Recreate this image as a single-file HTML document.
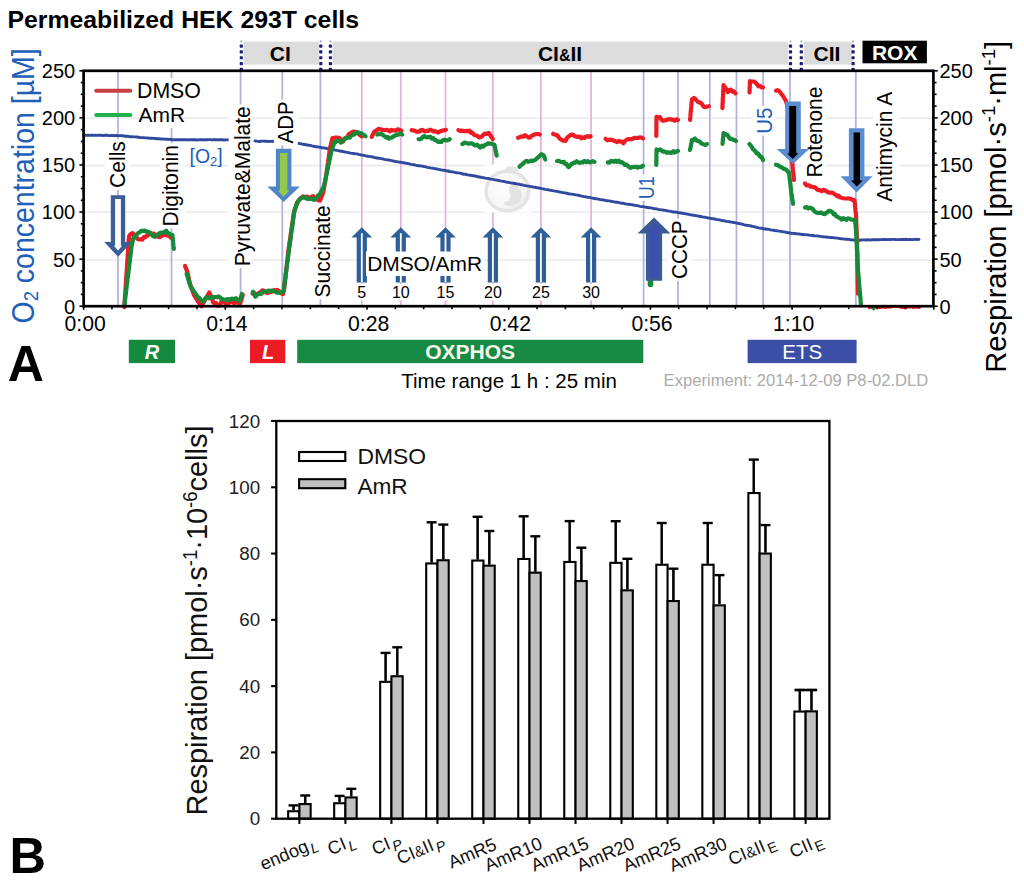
<!DOCTYPE html>
<html><head><meta charset="utf-8"><title>Permeabilized HEK 293T cells</title>
<style>html,body{margin:0;padding:0;background:#fff;} svg{display:block;} text{font-family:"Liberation Sans",sans-serif;}</style>
</head><body>
<svg width="1024" height="881" viewBox="0 0 1024 881">
<rect width="1024" height="881" fill="#fff"/>
<rect x="243.4" y="41.6" width="75.9" height="23.0" fill="#dcdcdc" />
<rect x="332.4" y="41.6" width="455.80000000000007" height="23.0" fill="#dcdcdc" />
<rect x="803.8" y="41.6" width="48.40000000000009" height="23.0" fill="#dcdcdc" />
<rect x="862.5" y="40.7" width="64.4" height="22.6" fill="#000" />
<line x1="84.6" y1="260.1" x2="932.4" y2="260.1" stroke="#ececec" stroke-width="1.8" />
<line x1="84.6" y1="212.1" x2="932.4" y2="212.1" stroke="#ececec" stroke-width="1.8" />
<line x1="84.6" y1="165.5" x2="932.4" y2="165.5" stroke="#ececec" stroke-width="1.8" />
<line x1="84.6" y1="118.2" x2="932.4" y2="118.2" stroke="#ececec" stroke-width="1.8" />
<line x1="118.0" y1="70.8" x2="118.0" y2="306" stroke="#b3b4de" stroke-width="1.8" />
<line x1="171.5" y1="70.8" x2="171.5" y2="78" stroke="#b3b4de" stroke-width="1.8" />
<line x1="171.5" y1="128" x2="171.5" y2="306" stroke="#b3b4de" stroke-width="1.8" />
<line x1="240.6" y1="70.8" x2="240.6" y2="306" stroke="#b3b4de" stroke-width="1.8" />
<line x1="282.3" y1="70.8" x2="282.3" y2="306" stroke="#b3b4de" stroke-width="1.8" />
<line x1="320.4" y1="70.8" x2="320.4" y2="306" stroke="#b3b4de" stroke-width="1.8" />
<line x1="643.6" y1="70.8" x2="643.6" y2="306" stroke="#b3b4de" stroke-width="1.8" />
<line x1="678.0" y1="70.8" x2="678.0" y2="306" stroke="#b3b4de" stroke-width="1.8" />
<line x1="709.8" y1="70.8" x2="709.8" y2="306" stroke="#b3b4de" stroke-width="1.8" />
<line x1="736.5" y1="70.8" x2="736.5" y2="306" stroke="#b3b4de" stroke-width="1.8" />
<line x1="763.1" y1="70.8" x2="763.1" y2="306" stroke="#b3b4de" stroke-width="1.8" />
<line x1="790.0" y1="70.8" x2="790.0" y2="306" stroke="#b3b4de" stroke-width="1.8" />
<line x1="855.8" y1="70.8" x2="855.8" y2="306" stroke="#b3b4de" stroke-width="1.8" />
<line x1="361.8" y1="70.8" x2="361.8" y2="306" stroke="#e4b0dc" stroke-width="1.7" />
<line x1="400.8" y1="70.8" x2="400.8" y2="306" stroke="#e4b0dc" stroke-width="1.7" />
<line x1="445.5" y1="70.8" x2="445.5" y2="306" stroke="#e4b0dc" stroke-width="1.7" />
<line x1="492.9" y1="70.8" x2="492.9" y2="306" stroke="#e4b0dc" stroke-width="1.7" />
<line x1="540.9" y1="70.8" x2="540.9" y2="306" stroke="#e4b0dc" stroke-width="1.7" />
<line x1="591.1" y1="70.8" x2="591.1" y2="306" stroke="#e4b0dc" stroke-width="1.7" />
<rect x="239.70000000000002" y="44.5" width="3.2" height="3.2" fill="#1c1c78" rx="0.8"/>
<rect x="239.70000000000002" y="50.33" width="3.2" height="3.2" fill="#1c1c78" rx="0.8"/>
<rect x="239.70000000000002" y="56.160000000000004" width="3.2" height="3.2" fill="#1c1c78" rx="0.8"/>
<rect x="239.70000000000002" y="61.99" width="3.2" height="3.2" fill="#1c1c78" rx="0.8"/>
<rect x="239.70000000000002" y="67.82000000000001" width="3.2" height="3.2" fill="#1c1c78" rx="0.8"/>
<rect x="240.5" y="40.6" width="1.6" height="1.6" fill="#8c8cc8" />
<rect x="319.2" y="44.5" width="3.2" height="3.2" fill="#1c1c78" rx="0.8"/>
<rect x="319.2" y="50.33" width="3.2" height="3.2" fill="#1c1c78" rx="0.8"/>
<rect x="319.2" y="56.160000000000004" width="3.2" height="3.2" fill="#1c1c78" rx="0.8"/>
<rect x="319.2" y="61.99" width="3.2" height="3.2" fill="#1c1c78" rx="0.8"/>
<rect x="319.2" y="67.82000000000001" width="3.2" height="3.2" fill="#1c1c78" rx="0.8"/>
<rect x="320.0" y="40.6" width="1.6" height="1.6" fill="#8c8cc8" />
<rect x="328.79999999999995" y="44.5" width="3.2" height="3.2" fill="#1c1c78" rx="0.8"/>
<rect x="328.79999999999995" y="50.33" width="3.2" height="3.2" fill="#1c1c78" rx="0.8"/>
<rect x="328.79999999999995" y="56.160000000000004" width="3.2" height="3.2" fill="#1c1c78" rx="0.8"/>
<rect x="328.79999999999995" y="61.99" width="3.2" height="3.2" fill="#1c1c78" rx="0.8"/>
<rect x="328.79999999999995" y="67.82000000000001" width="3.2" height="3.2" fill="#1c1c78" rx="0.8"/>
<rect x="329.59999999999997" y="40.6" width="1.6" height="1.6" fill="#8c8cc8" />
<rect x="788.9" y="44.5" width="3.2" height="3.2" fill="#1c1c78" rx="0.8"/>
<rect x="788.9" y="50.33" width="3.2" height="3.2" fill="#1c1c78" rx="0.8"/>
<rect x="788.9" y="56.160000000000004" width="3.2" height="3.2" fill="#1c1c78" rx="0.8"/>
<rect x="788.9" y="61.99" width="3.2" height="3.2" fill="#1c1c78" rx="0.8"/>
<rect x="788.9" y="67.82000000000001" width="3.2" height="3.2" fill="#1c1c78" rx="0.8"/>
<rect x="789.7" y="40.6" width="1.6" height="1.6" fill="#8c8cc8" />
<rect x="799.6999999999999" y="44.5" width="3.2" height="3.2" fill="#1c1c78" rx="0.8"/>
<rect x="799.6999999999999" y="50.33" width="3.2" height="3.2" fill="#1c1c78" rx="0.8"/>
<rect x="799.6999999999999" y="56.160000000000004" width="3.2" height="3.2" fill="#1c1c78" rx="0.8"/>
<rect x="799.6999999999999" y="61.99" width="3.2" height="3.2" fill="#1c1c78" rx="0.8"/>
<rect x="799.6999999999999" y="67.82000000000001" width="3.2" height="3.2" fill="#1c1c78" rx="0.8"/>
<rect x="800.5" y="40.6" width="1.6" height="1.6" fill="#8c8cc8" />
<rect x="851.5" y="44.5" width="3.2" height="3.2" fill="#1c1c78" rx="0.8"/>
<rect x="851.5" y="50.33" width="3.2" height="3.2" fill="#1c1c78" rx="0.8"/>
<rect x="851.5" y="56.160000000000004" width="3.2" height="3.2" fill="#1c1c78" rx="0.8"/>
<rect x="851.5" y="61.99" width="3.2" height="3.2" fill="#1c1c78" rx="0.8"/>
<rect x="851.5" y="67.82000000000001" width="3.2" height="3.2" fill="#1c1c78" rx="0.8"/>
<rect x="852.3000000000001" y="40.6" width="1.6" height="1.6" fill="#8c8cc8" />
<text x="280.3" y="61" font-size="21" text-anchor="middle" fill="#000" font-weight="bold"  >CI</text>
<text x="560" y="61" font-size="21" text-anchor="middle" font-weight="bold">CI<tspan font-size="16">&amp;</tspan>II</text>
<text x="827" y="60.5" font-size="21" text-anchor="middle" fill="#000" font-weight="bold"  >CII</text>
<text x="894.7" y="60.4" font-size="21" text-anchor="middle" fill="#fff" font-weight="bold"  >ROX</text>
<rect x="484" y="164.5" width="48" height="48" fill="#fff" />
<defs><radialGradient id="wg" cx="0.4" cy="0.4" r="0.7"><stop offset="0" stop-color="#fdfdfd"/><stop offset="0.7" stop-color="#f6f6f6"/><stop offset="1" stop-color="#e4e4e4"/></radialGradient></defs>
<g><path d="M503,172 q3,-6 8,-6 q6,0 8,5 z" fill="#e6e6e6"/><ellipse cx="507.5" cy="191" rx="21.5" ry="19.8" fill="url(#wg)" stroke="#e3e3e3" stroke-width="3.4"/><path d="M512,184 q5,-1 7,4 q5,5 2,12 q-4,7 -13,6 q-5,-1 -4,-4 q5,0 6,-4 q1,-4 -1,-6 q-1,-5 3,-8z" fill="#e3e3e3"/></g>
<polyline points="83.6,135.2 85.1,135.2 86.7,135.4 88.2,135.2 89.8,135.4 91.3,135.3 92.9,135.2 94.4,135.4 96.0,135.2 97.5,135.4 99.1,135.2 100.6,135.2 102.1,135.4 103.7,135.5 105.2,135.3 106.8,135.3 108.3,135.5 109.9,135.6 111.4,135.5 113.0,135.4 114.5,135.7 116.1,135.3 117.6,135.6 119.2,135.6 120.8,135.6 122.4,135.8 124.0,136.0 125.6,136.3 127.2,136.2 128.8,136.5 130.4,136.7 132.0,136.7 133.6,136.9 135.2,136.9 136.8,137.0 138.4,137.2 140.0,137.6 141.5,137.6 143.0,137.6 144.5,137.8 146.1,137.9 147.6,137.9 149.1,138.2 150.6,138.3 152.1,138.2 153.6,138.4 155.1,138.5 156.7,138.8 158.2,138.8 159.7,138.7 161.2,139.1 162.7,138.8 164.2,139.1 165.7,139.3 167.3,139.2 168.8,139.4 170.3,139.3 171.8,139.7 173.4,139.7 174.9,139.7 176.5,139.8 178.1,139.6 179.6,139.7 181.2,139.7 182.8,139.7 184.3,139.7 185.9,139.8 187.5,139.9 189.0,139.7 190.6,139.8 192.2,139.6 193.7,139.8 195.3,139.8 196.9,140.0 198.4,139.9 200.0,139.7 201.5,139.8 203.0,139.9 204.5,139.6 206.0,139.8 207.5,139.7 209.0,139.6 210.5,139.6 212.0,139.9 213.5,139.7 215.0,139.7 216.5,139.8 218.0,139.9 219.5,139.6 221.0,139.8 222.5,139.8 224.0,140.0 225.5,139.9 227.0,139.9 228.5,139.7 230.0,139.8" fill="none" stroke="#30499e" stroke-width="2.9" stroke-linejoin="round" stroke-linecap="round" />
<polyline points="255.0,141.0 256.6,141.1 258.2,141.4 259.8,141.5 261.3,141.1 262.9,141.1 264.5,141.2 266.1,141.2 267.7,141.4 269.2,141.5 270.8,141.4 272.4,141.3 274.0,141.6" fill="none" stroke="#30499e" stroke-width="2.9" stroke-linejoin="round" stroke-linecap="round" />
<polyline points="297.5,143.3 300.0,143.6 301.5,143.9 303.0,144.3 304.4,144.5 305.9,144.7 307.4,145.0 308.9,145.3 310.4,145.4 311.9,145.9 313.3,146.2 314.8,146.5 316.3,146.7 317.8,146.9 319.3,147.1 320.7,147.3 322.2,147.8 323.7,147.9 325.2,148.1 326.7,148.5 328.1,148.7 329.6,149.1 331.1,149.2 332.6,149.5 334.1,149.8 335.6,150.1 337.0,150.4 338.5,150.6 340.0,151.1 341.5,151.3 343.0,151.5 344.4,151.8 345.9,152.1 347.4,152.4 348.9,152.6 350.4,153.1 351.9,153.4 353.3,153.5 354.8,153.8 356.3,153.9 357.8,154.2 359.3,154.6 360.7,154.8 362.2,155.2 363.7,155.3 365.2,155.6 366.7,156.1 368.1,156.3 369.6,156.4 371.1,156.8 372.6,156.9 374.1,157.4 375.6,157.8 377.0,158.0 378.5,158.2 380.0,158.4 381.5,158.7 383.0,158.9 384.4,159.4 385.9,159.6 387.4,159.9 388.9,160.0 390.4,160.3 391.9,160.7 393.3,161.1 394.8,161.3 396.3,161.6 397.8,161.8 399.3,162.1 400.7,162.2 402.2,162.6 403.7,162.8 405.2,163.0 406.7,163.3 408.1,163.6 409.6,163.9 411.1,164.3 412.6,164.6 414.1,164.8 415.6,165.2 417.0,165.5 418.5,165.7 420.0,165.8 421.5,166.1 423.0,166.3 424.4,166.6 425.9,166.9 427.4,167.3 428.9,167.6 430.4,167.9 431.9,168.1 433.3,168.4 434.8,168.7 436.3,168.8 437.8,169.2 439.3,169.6 440.7,169.8 442.2,170.1 443.7,170.3 445.2,170.5 446.7,170.9 448.1,171.0 449.6,171.5 451.1,171.8 452.6,171.9 454.1,172.2 455.6,172.6 457.0,172.8 458.5,172.9 460.0,173.2 461.5,173.5 463.0,174.0 464.5,174.2 466.0,174.3 467.4,174.8 468.9,175.1 470.4,175.3 471.9,175.5 473.4,175.8 474.9,176.0 476.4,176.2 477.9,176.8 479.4,177.0 480.9,177.2 482.3,177.6 483.8,177.7 485.3,178.1 486.8,178.4 488.3,178.5 489.8,178.8 491.3,179.1 492.8,179.4 494.3,179.7 495.7,179.9 497.2,180.2 498.7,180.4 500.2,180.9 501.7,181.1 503.2,181.4 504.7,181.7 506.2,182.1 507.7,182.2 509.1,182.6 510.6,182.8 512.1,183.1 513.6,183.3 515.1,183.5 516.6,183.9 518.1,184.1 519.6,184.3 521.1,184.8 522.6,184.9 524.0,185.3 525.5,185.6 527.0,185.9 528.5,186.1 530.0,186.4 531.5,186.7 533.0,187.0 534.5,187.1 536.0,187.5 537.4,187.7 538.9,188.0 540.4,188.4 541.9,188.6 543.4,188.9 544.9,189.3 546.4,189.6 547.9,189.7 549.4,190.1 550.9,190.3 552.3,190.6 553.8,190.9 555.3,191.1 556.8,191.4 558.3,191.7 559.8,192.1 561.3,192.3 562.8,192.6 564.3,192.9 565.7,193.0 567.2,193.4 568.7,193.8 570.2,194.0 571.7,194.1 573.2,194.4 574.7,194.7 576.2,194.9 577.7,195.2 579.1,195.5 580.6,195.9 582.1,196.2 583.6,196.6 585.1,196.6 586.6,197.1 588.1,197.3 589.6,197.4 591.1,197.9 592.6,198.2 594.0,198.3 595.5,198.8 597.0,198.9 598.5,199.2 600.0,199.6 601.5,199.8 603.0,199.9 604.4,200.2 605.9,200.5 607.4,200.7 608.9,200.9 610.4,201.2 611.9,201.6 613.3,201.6 614.8,202.0 616.3,202.2 617.8,202.3 619.3,202.7 620.7,203.0 622.2,203.2 623.7,203.3 625.2,203.9 626.7,204.1 628.1,204.4 629.6,204.3 631.1,204.6 632.6,204.8 634.1,205.3 635.6,205.4 637.0,205.6 638.5,205.9 640.0,206.3 641.5,206.6 643.0,206.6 644.6,206.9 646.1,207.3 647.6,207.5 649.1,207.8 650.6,207.9 652.2,208.1 653.7,208.6 655.2,208.7 656.7,208.9 658.2,209.4 659.8,209.6 661.3,209.9 662.8,209.9 664.3,210.4 665.8,210.4 667.4,210.9 668.9,211.1 670.4,211.3 671.9,211.6 673.4,212.0 675.0,212.0 676.5,212.2 678.0,212.6 679.5,212.8 681.0,213.0 682.6,213.3 684.1,213.5 685.6,213.8 687.1,214.1 688.7,214.4 690.2,214.8 691.7,214.9 693.2,215.3 694.8,215.4 696.3,215.8 697.8,215.9 699.3,216.3 700.9,216.5 702.4,216.9 703.9,217.1 705.4,217.3 707.0,217.7 708.5,218.1 710.0,218.1 711.5,218.6 713.1,218.7 714.6,219.0 716.1,219.4 717.6,219.6 719.2,219.9 720.7,220.2 722.2,220.6 723.8,220.7 725.3,221.1 726.8,221.4 728.4,221.6 729.9,221.8 731.4,222.1 732.9,222.3 734.5,222.6 736.0,222.9 737.5,223.4 739.0,223.5 740.5,223.8 742.0,224.1 743.5,224.7 745.0,225.0 746.5,225.2 748.0,225.4 749.5,225.7 751.0,226.0 752.5,226.4 754.0,226.6 755.5,227.0 757.0,227.3 758.5,227.8 760.0,228.1 761.5,228.3 763.0,228.5 764.5,229.0 766.0,229.0 767.5,229.3 769.0,229.4 770.5,229.8 772.0,230.1 773.5,230.3 775.0,230.5 776.5,230.8 778.0,230.9 779.5,231.2 781.0,231.4 782.5,231.7 784.0,231.9 785.5,232.1 787.0,232.5 788.5,232.7 790.0,233.0 791.5,233.2 793.0,233.4 794.5,233.5 796.0,233.7 797.5,233.9 799.0,234.0 800.5,234.1 802.0,234.5 803.5,234.4 805.0,234.7 806.5,234.9 808.0,234.8 809.5,235.2 811.0,235.4 812.5,235.5 814.0,235.7 815.5,235.9 817.0,235.9 818.5,236.1 820.0,236.3 821.5,236.6 823.0,236.7 824.6,236.9 826.1,237.0 827.6,237.3 829.1,237.4 830.7,237.5 832.2,237.6 833.7,237.7 835.2,237.9 836.7,238.1 838.3,238.2 839.8,238.6 841.3,238.7 842.8,238.9 844.3,239.1 845.9,239.2 847.4,239.3 848.9,239.4 850.4,239.8 852.0,239.9 853.5,240.0 855.0,240.2 856.6,240.2 858.1,240.0 859.7,240.2 861.2,240.0 862.8,239.9 864.4,239.9 865.9,240.0 867.5,239.8 869.1,239.9 870.6,240.0 872.2,239.8 873.8,239.7 875.3,239.7 876.9,239.7 878.4,239.7 880.0,239.6 881.5,239.6 883.0,239.5 884.5,239.5 886.0,239.5 887.5,239.6 889.0,239.5 890.5,239.6 892.0,239.4 893.5,239.4 895.0,239.5 896.5,239.6 898.0,239.6 899.5,239.6 901.0,239.4 902.5,239.5 904.0,239.5 905.5,239.5 907.0,239.3 908.5,239.6 910.0,239.4 911.5,239.6 913.0,239.6 914.5,239.3 916.0,239.4 917.5,239.5 919.0,239.4" fill="none" stroke="#30499e" stroke-width="2.9" stroke-linejoin="round" stroke-linecap="round" />
<rect x="104.53904" y="139.3" width="25.599999999999994" height="50.39999999999998" fill="#fff" />
<g transform="translate(125.2,164.50) scale(1.06,1) rotate(-90)"><text x="0" y="0" font-size="20.6" text-anchor="middle" fill="#000" textLength="46.8" lengthAdjust="spacingAndGlyphs">Cells</text></g>
<rect x="159.82264" y="143.3" width="25.600000000000023" height="85.0" fill="#fff" />
<g transform="translate(178.3,185.80) scale(1.06,1) rotate(-90)"><text x="0" y="0" font-size="20.6" text-anchor="middle" fill="#000" textLength="81.4" lengthAdjust="spacingAndGlyphs">Digitonin</text></g>
<rect x="228.6" y="104.4" width="22.700000000000017" height="163.70000000000002" fill="#fff" />
<g transform="translate(250.1,186.25) scale(1.06,1) rotate(-90)"><text x="0" y="0" font-size="20.6" text-anchor="middle" fill="#000" textLength="160.1" lengthAdjust="spacingAndGlyphs">Pyruvate&amp;Malate</text></g>
<rect x="273.9" y="99.7" width="23.900000000000034" height="45.499999999999986" fill="#fff" />
<g transform="translate(293.0,122.45) scale(1.06,1) rotate(-90)"><text x="0" y="0" font-size="20.6" text-anchor="middle" fill="#000" textLength="41.9" lengthAdjust="spacingAndGlyphs">ADP</text></g>
<rect x="309.33904" y="203.5" width="25.600000000000023" height="95.69999999999999" fill="#fff" />
<g transform="translate(330.0,251.35) scale(1.06,1) rotate(-90)"><text x="0" y="0" font-size="20.6" text-anchor="middle" fill="#000" textLength="92.1" lengthAdjust="spacingAndGlyphs">Succinate</text></g>
<rect x="666.73904" y="218.5" width="25.59999999999991" height="62.39999999999998" fill="#fff" />
<g transform="translate(687.4,249.70) scale(1.06,1) rotate(-90)"><text x="0" y="0" font-size="20.6" text-anchor="middle" fill="#000" textLength="58.8" lengthAdjust="spacingAndGlyphs">CCCP</text></g>
<rect x="800.9390400000001" y="84.9" width="25.59999999999991" height="94.29999999999998" fill="#fff" />
<g transform="translate(821.6,132.05) scale(1.06,1) rotate(-90)"><text x="0" y="0" font-size="20.6" text-anchor="middle" fill="#000" textLength="90.7" lengthAdjust="spacingAndGlyphs">Rotenone</text></g>
<rect x="873.7226400000001" y="90.0" width="25.59999999999991" height="113.5" fill="#fff" />
<g transform="translate(892.2,146.75) scale(1.06,1) rotate(-90)"><text x="0" y="0" font-size="20.6" text-anchor="middle" fill="#000" textLength="109.9" lengthAdjust="spacingAndGlyphs">Antimycin A</text></g>
<rect x="633.6410000000001" y="174.6" width="25.59999999999991" height="26.200000000000017" fill="#fff" />
<g transform="translate(654.1,187.70) scale(1.15,1) rotate(-90)"><text x="0" y="0" font-size="18.5" text-anchor="middle" fill="#2160b8" textLength="22.5" lengthAdjust="spacingAndGlyphs">U1</text></g>
<rect x="751.0296" y="105.7" width="25.59999999999991" height="29.89999999999999" fill="#fff" />
<g transform="translate(771.8,120.65) scale(1.08,1) rotate(-90)"><text x="0" y="0" font-size="20.5" text-anchor="middle" fill="#2160b8" textLength="26.3" lengthAdjust="spacingAndGlyphs">U5</text></g>
<polyline points="124.3,307.2 124.4,305.7 124.5,304.2 124.6,302.7 124.7,301.2 124.8,299.7 124.9,298.2 125.0,296.7 125.1,295.2 125.2,293.7 125.3,292.2 125.4,290.7 125.5,289.1 125.6,287.6 125.7,286.1 125.8,284.6 125.9,283.1 126.0,281.6 126.1,280.1 126.2,278.6 126.3,277.1 126.4,275.6 126.5,274.1 126.6,272.6 126.7,271.1 126.8,269.6 126.9,268.1 127.0,266.6 127.1,265.1 127.2,263.6 127.3,262.1 127.4,260.6 127.5,259.1 127.6,257.6 127.7,256.1 127.8,254.5 127.9,253.0 128.0,251.5 128.1,250.0 128.2,248.5 128.3,247.0 128.4,245.5 128.5,244.0 128.6,242.5 128.7,241.0 128.8,239.5 128.9,238.0 129.2,236.2 129.6,235.3 131.1,233.9 132.5,233.1 133.8,234.4 135.0,237.1 136.3,237.0 137.5,238.9 138.8,239.4 140.7,239.4 142.5,239.6 143.8,237.2 145.0,237.5 146.2,236.0 147.5,235.7 148.8,234.5 150.0,232.8 151.3,233.2 152.5,233.5 153.8,233.7 155.0,234.7 156.7,236.2 158.3,236.8 160.0,237.1 161.7,235.8 163.3,235.2 165.0,234.1 166.9,235.6 168.8,234.7 170.6,237.5" fill="none" stroke="#ec1c24" stroke-width="4.2" stroke-linejoin="round" stroke-linecap="round" />
<polyline points="185.0,265.9 185.6,267.5 186.2,269.0 186.8,270.6 187.4,272.2 187.7,273.7 188.1,275.1 188.4,276.6 188.7,278.1 189.0,279.6 189.3,281.1 189.7,282.5 190.0,284.0 190.6,285.6 191.1,287.1 191.7,288.7 192.3,290.3 192.9,291.9 193.4,293.4 194.0,295.0 194.9,296.4 195.7,297.8 196.6,299.1 197.4,300.5 198.3,301.9 199.3,303.3 200.4,304.8 201.4,306.2 202.3,304.6 203.2,303.1 204.1,301.6 205.0,300.0 205.9,298.5 206.7,297.0 207.6,295.5 208.4,294.0 209.3,292.5 210.0,294.1 210.6,295.6 211.2,297.2 211.9,298.8 212.5,300.3 213.2,302.4 214.5,303.4 215.9,303.0 217.2,305.4 218.6,305.9 219.9,304.7 221.2,302.1 222.5,300.8 223.9,301.6 225.2,303.5 226.6,303.6 228.0,304.2 229.0,302.9 230.0,301.6 231.0,300.0 232.1,301.5 233.2,302.5 234.3,303.4 235.9,301.9 237.4,301.0 238.2,302.3 238.9,303.7 239.7,305.0 240.1,303.5 240.6,302.1 241.0,300.6 241.5,299.2 241.9,297.7 242.4,296.3 242.8,294.8" fill="none" stroke="#ec1c24" stroke-width="4.2" stroke-linejoin="round" stroke-linecap="round" />
<polyline points="252.5,293.6 254.3,292.9 256.2,294.5 258.0,293.5 259.2,292.7 260.5,292.3 261.8,290.8 263.0,290.3 264.7,292.0 266.3,292.5 268.0,293.1 269.5,292.1 271.0,292.0 272.5,291.4 274.0,290.1 275.7,290.7 277.3,289.9 279.0,291.4 280.3,291.9 281.7,293.5 283.0,294.0 283.5,292.0 284.0,290.0 284.2,288.5 284.3,286.9 284.5,285.4 284.7,283.8 284.9,282.3 285.0,280.8 285.2,279.2 285.4,277.7 285.6,276.2 285.7,274.6 285.9,273.1 286.1,271.5 286.2,270.0 286.4,268.5 286.6,266.9 286.8,265.4 286.9,263.8 287.1,262.3 287.3,260.8 287.5,259.2 287.6,257.7 287.8,256.2 288.0,254.6 288.2,253.1 288.3,251.5 288.5,250.0 288.7,248.5 288.9,247.0 289.2,245.4 289.4,243.9 289.6,242.4 289.8,240.9 290.0,239.4 290.3,237.8 290.5,236.3 290.7,234.8 290.9,233.3 291.1,231.8 291.4,230.2 291.6,228.7 291.8,227.2 292.0,225.7 292.2,224.2 292.5,222.6 292.7,221.1 292.9,219.6 293.1,218.1 293.3,216.6 293.6,215.0 293.8,213.5 294.0,212.0 294.5,210.5 295.0,209.0 295.5,207.5 296.0,206.0 296.5,204.5 297.0,203.0 298.0,201.5 299.0,200.0 300.0,198.8 301.7,197.4 303.3,196.4 305.0,197.3 307.0,196.6 309.0,197.9 311.0,197.0 313.0,196.1 314.3,197.9 315.7,199.4 317.0,199.1 318.5,200.3 320.0,200.5 320.6,199.0 321.2,197.5 321.8,196.0 322.4,194.5 323.0,193.0 323.3,191.5 323.6,190.0 323.9,188.5 324.2,187.0 324.4,185.4 324.7,183.9 325.0,182.4 325.3,180.9 325.6,179.4 325.8,177.9 326.0,176.4 326.2,174.9 326.5,173.4 326.7,171.9 326.9,170.3 327.1,168.8 327.3,167.3 327.5,165.8 327.7,164.3 328.0,162.8 328.2,161.3 328.4,159.8 328.6,158.3 328.8,156.8 329.0,155.2 329.2,153.7 329.5,152.2 329.7,150.7 329.9,149.2 330.1,147.7 330.5,146.2 330.9,144.7 331.2,143.1 331.6,141.6 332.0,140.1 332.4,138.2 334.0,138.3 335.6,137.5 337.4,137.6 339.2,138.0 341.0,139.2 342.9,141.6 344.0,139.7 345.1,138.0 346.1,138.1 347.2,137.1 348.3,134.9 349.6,133.6 351.0,132.8 352.4,131.9 353.7,131.5 355.2,131.8 356.8,132.9 358.3,133.7 360.1,135.3 361.9,136.3" fill="none" stroke="#ec1c24" stroke-width="4.2" stroke-linejoin="round" stroke-linecap="round" />
<polyline points="371.7,136.9 372.5,135.3 373.2,133.8 374.0,132.2 374.8,131.3 376.8,130.2 378.8,128.8 380.4,129.2 381.9,129.8 383.4,130.0 385.0,130.3 386.6,129.8 388.1,130.2 389.7,131.4 391.3,129.9 392.9,130.4 394.4,130.4 395.9,130.7 397.5,129.3 399.4,129.8 401.4,130.6" fill="none" stroke="#ec1c24" stroke-width="4.2" stroke-linejoin="round" stroke-linecap="round" />
<polyline points="411.6,130.1 413.2,130.5 414.8,130.7 416.4,131.7 418.0,131.6 419.5,131.6 421.0,130.0 422.6,129.9 424.1,131.1 425.6,131.3 427.2,130.6 428.7,130.8 430.3,129.7 431.9,130.4 433.4,131.4 435.0,131.2 436.6,131.8 438.1,132.5 439.7,131.7 441.2,130.9 442.8,130.4 444.3,130.4 445.9,129.8" fill="none" stroke="#ec1c24" stroke-width="4.2" stroke-linejoin="round" stroke-linecap="round" />
<polyline points="458.4,130.1 460.0,130.8 461.5,130.7 463.1,130.8 464.7,131.2 466.3,130.9 467.8,131.3 469.4,130.6 470.9,132.8 472.5,132.7 474.0,134.8 475.2,135.2 476.4,135.5 477.6,136.1 478.8,137.3 480.4,137.1 481.9,136.5 483.4,134.6 485.0,133.7 486.9,133.8 488.9,133.0 489.9,134.6 490.9,136.1 491.8,137.6 492.8,139.2" fill="none" stroke="#ec1c24" stroke-width="4.2" stroke-linejoin="round" stroke-linecap="round" />
<polyline points="518.0,137.8 519.8,137.1 521.5,136.4 523.2,136.7 525.0,135.2 527.0,136.5 528.9,137.6 530.2,137.5 531.5,135.8 532.8,135.2 534.5,134.5 536.3,134.0 538.0,134.0 539.8,134.5" fill="none" stroke="#ec1c24" stroke-width="4.2" stroke-linejoin="round" stroke-linecap="round" />
<polyline points="553.1,133.8 554.7,134.5 556.3,135.0 557.5,135.5 558.8,137.5 560.0,138.9 561.3,139.6 562.5,140.4 564.0,140.7 565.6,140.8 566.7,138.4 567.8,137.0 568.9,136.4 570.0,135.5 571.1,134.8 572.9,134.6 574.6,136.2 576.4,136.7 578.1,136.9 579.7,136.6 581.2,138.3 582.8,137.4 584.4,138.0 585.9,136.6 587.5,136.2 589.0,136.9 590.6,136.1" fill="none" stroke="#ec1c24" stroke-width="4.2" stroke-linejoin="round" stroke-linecap="round" />
<polyline points="605.5,138.8 607.2,140.3 608.9,139.8 610.6,139.6 612.3,140.0 614.0,140.7 615.6,141.3 617.1,142.1 618.7,140.9 620.3,141.6 621.8,141.5 623.4,143.2 625.0,140.9 626.5,139.9 628.1,139.2 629.7,139.0 631.2,139.3 632.8,138.7 634.4,137.9 635.9,137.8 637.7,138.1 639.5,137.3 641.2,137.5 643.0,138.4" fill="none" stroke="#ec1c24" stroke-width="4.2" stroke-linejoin="round" stroke-linecap="round" />
<polyline points="656.3,136.0 656.3,134.5 656.3,132.9 656.3,131.4 656.4,129.8 656.4,128.3 656.4,126.8 656.4,125.2 656.4,123.7 656.4,122.2 656.5,120.6 656.5,119.1 656.5,117.5 656.5,116.8 658.2,117.4 660.0,117.2 661.5,119.8 663.0,120.8 664.7,120.4 666.3,120.0 668.0,119.4 669.7,119.1 671.3,119.6 673.0,119.7 674.7,120.8 676.3,119.3 678.0,120.0" fill="none" stroke="#ec1c24" stroke-width="4.2" stroke-linejoin="round" stroke-linecap="round" />
<polyline points="690.0,120.0 690.1,118.5 690.3,116.9 690.4,115.4 690.6,113.9 690.7,112.3 690.9,110.8 691.0,109.2 691.1,107.7 691.3,106.2 691.4,104.6 691.6,103.1 691.7,101.6 691.9,100.0 692.0,99.3 694.0,98.0 695.9,99.5 697.7,101.6 699.0,102.4 700.4,102.6 701.7,103.6 702.6,105.0 703.4,106.3 704.3,106.9 705.8,107.2 707.4,106.5 708.9,106.2" fill="none" stroke="#ec1c24" stroke-width="4.2" stroke-linejoin="round" stroke-linecap="round" />
<polyline points="722.4,108.2 722.5,106.7 722.5,105.1 722.6,103.6 722.7,102.1 722.8,100.5 722.8,99.0 722.9,97.5 723.0,95.9 723.1,94.4 723.1,92.9 723.2,91.3 723.3,89.8 723.4,88.3 723.4,86.7 723.5,85.2 724.6,86.7 725.6,88.2 726.7,89.8 727.8,92.1 729.3,90.0 730.9,89.6 732.4,91.7 734.0,91.4 735.5,93.4" fill="none" stroke="#ec1c24" stroke-width="4.2" stroke-linejoin="round" stroke-linecap="round" />
<polyline points="749.5,92.5 749.6,90.9 749.6,89.3 749.7,87.7 749.8,86.1 749.9,84.5 749.9,82.9 750.0,81.1 751.5,81.7 753.0,81.5 754.3,81.5 755.7,82.8 757.0,84.2 758.5,86.4 760.0,85.8 761.5,87.3 763.0,87.5" fill="none" stroke="#ec1c24" stroke-width="4.2" stroke-linejoin="round" stroke-linecap="round" />
<polyline points="776.0,90.7 777.5,90.2 779.0,91.0 780.0,92.2 781.0,93.5 782.0,94.8 783.0,96.0 784.0,97.7 785.0,99.3 786.0,101.0 786.4,102.6 786.9,104.1 787.3,105.7 787.8,107.2 788.2,108.8 788.7,110.3 789.1,111.9 789.6,113.4 790.0,115.0 790.1,116.5 790.1,118.0 790.2,119.5 790.3,121.0 790.3,122.5 790.4,124.0 790.5,125.5 790.5,127.0 790.6,128.5 790.7,130.0 790.7,131.5 790.8,133.0 790.9,134.5 790.9,136.0 791.0,137.5 791.1,139.0 791.1,140.5 791.2,142.0 791.3,143.5 791.3,145.0 791.4,146.5 791.5,148.0 791.5,149.5 791.6,151.0 791.7,152.5 791.7,154.0 791.8,155.5 791.9,157.0 791.9,158.5 792.0,160.0 792.2,161.5 792.3,163.1 792.5,164.6 792.6,166.2 792.8,167.7 792.9,169.2 793.1,170.8 793.2,172.3 793.4,173.8 793.5,175.4 793.7,176.9 793.8,178.5 794.0,180.0" fill="none" stroke="#ec1c24" stroke-width="4.2" stroke-linejoin="round" stroke-linecap="round" />
<polyline points="805.0,183.4 806.4,185.3 807.8,185.3 809.2,185.3 810.6,186.7 812.0,186.7 813.6,187.2 815.2,187.3 816.8,189.3 818.4,190.1 820.0,190.2 821.7,191.1 823.3,189.8 825.0,190.5 826.7,191.3 828.3,192.5 830.0,192.8 831.4,192.5 832.9,193.0 834.3,194.0 835.7,194.8 837.1,196.3 838.6,195.7 840.0,197.5 841.7,197.8 843.3,198.2 845.0,198.5 846.7,198.5 848.3,198.4 850.0,198.7 851.5,199.1 853.0,200.2 854.5,200.0 854.6,201.5 854.8,203.0 855.0,204.5 855.1,206.0 855.2,207.5 855.4,209.0 855.5,210.5 855.7,212.0 855.9,213.5 856.0,215.0 856.1,216.6 856.1,218.1 856.2,219.7 856.2,221.2 856.3,222.8 856.4,224.4 856.4,225.9 856.5,227.5 856.6,229.1 856.6,230.6 856.7,232.2 856.8,233.8 856.8,235.3 856.9,236.9 856.9,238.4 857.0,240.0 857.0,241.5 857.1,243.1 857.1,244.6 857.1,246.1 857.1,247.7 857.2,249.2 857.2,250.7 857.2,252.3 857.3,253.8 857.3,255.3 857.3,256.9 857.3,258.4 857.4,259.9 857.4,261.5 857.4,263.0 857.5,264.5 857.5,266.1 857.5,267.6 857.5,269.2 857.6,270.7 857.6,272.2 857.6,273.8 857.7,275.3 857.7,276.8 857.7,278.4 857.7,279.9 857.8,281.4 857.8,283.0 857.8,284.5 857.9,286.0 857.9,287.6 857.9,289.1 857.9,290.6 858.0,292.2 858.0,293.7" fill="none" stroke="#ec1c24" stroke-width="4.2" stroke-linejoin="round" stroke-linecap="round" />
<polygon points="110.8,195.2 125.2,195.2 125.2,242.1 131.7,242.1 118.0,256.8 104.3,242.1 110.8,242.1" fill="#3b5e96" />
<polygon points="115.1,199.1 120.9,199.1 120.9,245.7 122.1,245.7 118.0,250.4 113.9,245.7 115.1,245.7" fill="#fff" />
<polyline points="124.4,305.5 124.6,304.0 124.8,302.4 125.0,300.9 125.1,299.4 125.3,297.9 125.5,296.3 125.7,294.8 125.9,293.3 126.1,291.8 126.2,290.2 126.4,288.7 126.6,287.2 126.8,285.7 127.0,284.1 127.2,282.6 127.4,281.1 127.5,279.6 127.7,278.0 127.9,276.5 128.1,275.0 128.3,273.5 128.5,271.9 128.6,270.4 128.8,268.9 129.0,267.4 129.2,265.8 129.4,264.3 129.6,262.8 129.8,261.3 129.9,259.7 130.1,258.2 130.3,256.7 130.5,255.2 130.7,253.6 130.9,252.1 131.0,250.6 131.2,249.1 131.4,247.5 131.6,246.0 132.0,244.3 132.4,242.6 132.8,240.9 133.2,238.4 134.3,237.5 135.3,237.3 136.4,235.1 137.5,233.6 138.8,232.5 140.0,232.3 141.2,230.8 142.5,230.9 145.0,230.7 146.2,231.8 147.5,231.5 148.8,232.1 150.0,233.1 151.7,234.8 153.3,236.2 155.0,236.8 156.2,235.3 157.5,234.6 158.8,233.8 160.0,232.8 161.6,232.6 163.2,232.5 164.7,231.9 166.3,230.6 167.6,233.2 168.8,233.4 170.7,234.5 172.5,235.0 172.6,236.5 172.8,238.1 172.9,239.6 173.1,241.1 173.2,242.7 173.4,244.2 173.5,245.7 173.7,247.3 173.8,248.8" fill="none" stroke="#178a3a" stroke-width="4.2" stroke-linejoin="round" stroke-linecap="round" />
<polyline points="186.6,273.8 187.1,275.4 187.6,276.9 188.1,278.5 188.6,280.1 189.0,281.6 189.5,283.2 190.0,284.7 190.5,286.3 191.4,287.6 192.3,289.0 193.2,290.3 194.1,291.6 195.0,292.9 195.9,294.3 196.8,295.4 197.9,297.3 199.0,297.6 200.0,298.9 201.1,300.2 202.2,301.3 203.4,301.4 204.6,299.7 205.7,298.1 206.9,297.0 208.9,298.3 210.8,297.6 212.4,296.8 213.9,297.6 215.4,297.0 217.0,297.3 218.6,296.4 220.2,297.7 221.8,299.0 223.6,299.5 225.3,300.1 227.1,299.0 228.8,299.9 230.6,299.0 232.3,298.6 234.1,299.4 235.8,298.1 237.1,299.8 238.4,299.8 239.7,301.0 240.3,299.2 240.8,297.5 241.4,295.8 242.0,294.0" fill="none" stroke="#178a3a" stroke-width="4.2" stroke-linejoin="round" stroke-linecap="round" />
<polyline points="253.0,291.7 253.8,293.1 254.5,294.6 255.3,296.7 256.9,295.1 258.4,293.9 260.0,294.0 261.7,293.6 263.3,291.5 265.0,291.7 266.7,291.5 268.3,290.7 270.0,290.8 271.5,290.6 273.0,291.0 274.5,291.3 276.0,292.2 277.7,292.8 279.3,292.5 281.0,292.6 282.3,291.9 283.6,291.0 283.8,289.5 284.0,288.0 284.2,286.4 284.4,284.9 284.6,283.4 284.8,281.9 285.0,280.4 285.2,278.9 285.4,277.3 285.6,275.8 285.8,274.3 286.0,272.8 286.2,271.3 286.4,269.7 286.6,268.2 286.8,266.7 287.0,265.2 287.2,263.7 287.4,262.1 287.6,260.6 287.8,259.1 288.0,257.6 288.2,256.1 288.4,254.6 288.6,253.0 288.8,251.5 289.0,250.0 289.2,248.5 289.4,247.0 289.6,245.5 289.8,244.0 290.0,242.6 290.2,241.1 290.4,239.6 290.6,238.1 290.8,236.6 291.0,235.1 291.2,233.6 291.4,232.1 291.6,230.7 291.9,229.2 292.1,227.7 292.3,226.2 292.5,224.7 292.7,223.2 292.9,221.7 293.1,220.2 293.3,218.7 293.5,217.3 293.7,215.8 293.9,214.3 294.1,212.8 294.3,211.3 294.8,209.6 295.4,208.0 295.9,206.3 296.5,204.7 297.0,203.0 297.9,201.7 298.8,200.3 299.7,199.3 301.5,197.9 303.2,197.7 305.0,197.0 306.7,198.7 308.3,198.9 310.0,198.7 312.0,199.0 314.0,199.8 315.3,198.8 316.6,197.7 318.0,195.4 319.3,194.9 320.1,193.5 320.8,192.2 321.6,190.8 322.3,189.4 323.1,188.1 323.8,186.7 324.1,185.2 324.5,183.7 324.8,182.3 325.1,180.8 325.4,179.3 325.8,177.8 326.1,176.3 326.4,174.8 326.7,173.4 327.1,171.9 327.4,170.4 327.7,168.9 328.0,167.3 328.3,165.8 328.7,164.2 329.0,162.7 329.3,161.2 329.6,159.6 329.9,158.1 330.2,156.6 330.6,155.0 330.9,153.5 331.2,151.9 331.5,150.4 332.0,148.9 332.6,147.5 333.1,146.0 333.7,144.6 334.2,142.5 335.4,142.4 336.5,140.7 338.0,140.8 339.5,141.2 341.0,142.6 342.5,140.4 344.1,139.8 345.6,138.3 347.1,137.7 348.6,137.7 350.1,137.2 351.5,135.4 352.9,134.4 354.2,134.7 355.6,133.1 357.6,132.1 359.6,133.0 361.2,133.1 362.8,134.7 364.1,135.0 365.5,136.3" fill="none" stroke="#178a3a" stroke-width="4.2" stroke-linejoin="round" stroke-linecap="round" />
<polyline points="377.2,134.5 378.8,134.1 380.3,133.9 381.8,134.1 383.4,135.4 384.8,136.3 386.1,137.6 387.5,136.9 388.9,138.6 390.5,137.7 392.0,137.4 393.6,136.3 395.2,135.5 396.7,134.9 398.3,134.6 400.2,133.4 402.2,134.5" fill="none" stroke="#178a3a" stroke-width="4.2" stroke-linejoin="round" stroke-linecap="round" />
<polyline points="418.6,139.2 420.0,139.1 421.4,138.8 422.8,136.8 424.2,136.0 425.6,136.9 427.2,137.4 428.7,137.0 430.3,136.7 431.8,138.7 433.4,138.2 435.0,140.1 436.5,140.6 438.1,141.9 439.7,141.7 441.3,142.0 442.8,140.3 444.4,139.8 446.2,140.4 448.0,140.1 449.8,139.2" fill="none" stroke="#178a3a" stroke-width="4.2" stroke-linejoin="round" stroke-linecap="round" />
<polyline points="462.3,144.1 464.7,142.6 466.3,143.1 467.8,143.6 469.4,143.6 470.9,143.3 472.5,143.8 474.0,144.9 475.6,145.4 477.2,144.6 478.7,146.3 480.3,147.5 481.9,145.7 483.4,146.6 485.0,144.8 486.6,144.5 488.1,143.2 489.7,143.7 491.2,143.6 492.8,144.2 494.4,144.7 494.7,146.3 495.1,147.8 495.4,149.4 495.7,150.9 496.0,152.5 496.4,154.0 496.7,155.6" fill="none" stroke="#178a3a" stroke-width="4.2" stroke-linejoin="round" stroke-linecap="round" />
<polyline points="519.5,166.7 520.9,165.3 522.2,164.5 523.6,163.0 525.0,161.8 526.6,160.8 528.1,161.7 529.7,161.3 531.3,160.6 533.1,160.8 534.9,160.1 536.7,158.7 537.9,157.2 539.0,156.8 540.2,155.1 541.4,154.1 543.8,155.6 544.5,157.6 545.3,159.5" fill="none" stroke="#178a3a" stroke-width="4.2" stroke-linejoin="round" stroke-linecap="round" />
<polyline points="557.0,161.0 558.8,160.8 560.5,161.8 562.2,162.3 564.0,161.9 565.2,163.9 566.4,163.9 567.6,166.0 568.8,167.1 570.0,165.7 571.3,163.9 572.5,163.8 573.8,162.6 575.0,162.7 576.6,161.2 578.1,162.5 579.7,162.8 581.3,162.3 582.8,162.3 584.4,160.9 586.0,162.2 587.5,161.1 589.2,162.1 591.0,162.2 592.8,161.1 594.5,161.9" fill="none" stroke="#178a3a" stroke-width="4.2" stroke-linejoin="round" stroke-linecap="round" />
<polyline points="607.8,162.4 609.4,162.6 610.9,160.9 612.5,161.3 614.1,161.9 615.7,160.7 617.2,161.9 618.8,160.7 620.3,162.4 621.9,162.0 623.5,163.4 625.0,165.0 626.4,164.6 627.8,165.7 629.1,167.1 630.5,167.8 632.3,167.0 634.1,167.0 635.9,166.7 637.7,167.7 639.5,166.9 641.2,166.9 643.0,165.8" fill="none" stroke="#178a3a" stroke-width="4.2" stroke-linejoin="round" stroke-linecap="round" />
<polyline points="656.3,165.0 656.3,163.5 656.3,162.0 656.4,160.5 656.4,159.0 656.4,157.5 656.4,156.0 656.4,154.5 656.5,153.0 656.5,151.5 656.5,149.4 658.2,150.5 660.0,149.3 661.7,150.7 663.3,151.6 665.0,151.7 666.7,152.8 668.3,152.4 670.0,152.6 671.6,152.9 673.2,151.2 674.8,152.5 676.4,151.5 678.0,151.0" fill="none" stroke="#178a3a" stroke-width="4.2" stroke-linejoin="round" stroke-linecap="round" />
<polyline points="690.0,150.0 690.3,148.3 690.7,146.7 691.0,145.0 691.3,143.3 691.7,141.7 692.0,139.8 693.5,139.9 695.0,138.4 696.7,140.7 698.3,141.1 700.0,141.7 701.3,143.5 702.7,143.9 704.0,144.4 705.5,144.9 707.0,144.0" fill="none" stroke="#178a3a" stroke-width="4.2" stroke-linejoin="round" stroke-linecap="round" />
<polyline points="722.5,143.8 722.7,142.1 722.8,140.5 723.0,138.8 723.2,137.1 723.3,135.5 723.5,133.0 726.0,134.6 727.3,134.9 728.7,136.9 730.0,138.9 731.5,138.9 733.0,139.8 734.5,139.9 736.0,141.0" fill="none" stroke="#178a3a" stroke-width="4.2" stroke-linejoin="round" stroke-linecap="round" />
<polyline points="749.5,144.1 750.7,145.5 751.8,147.0 753.0,149.2 754.2,150.1 755.5,151.5 756.8,153.5 758.0,153.3 759.0,154.7 760.0,156.7 761.0,156.7 762.0,157.9 763.0,160.0" fill="none" stroke="#178a3a" stroke-width="4.2" stroke-linejoin="round" stroke-linecap="round" />
<polyline points="776.0,164.7 778.0,165.3 780.0,166.7 781.7,167.2 783.3,168.5 785.0,169.2 786.3,169.6 787.7,171.6 789.0,172.5 789.2,174.1 789.4,175.7 789.5,177.3 789.7,178.9 789.9,180.5 790.1,182.0 790.3,183.6 790.5,185.2 790.6,186.8 790.8,188.4 791.0,190.0 791.2,191.5 791.4,193.1 791.7,194.6 791.9,196.1 792.1,197.7 792.3,199.2 792.6,200.7 792.8,202.3 793.0,203.8" fill="none" stroke="#178a3a" stroke-width="4.2" stroke-linejoin="round" stroke-linecap="round" />
<polyline points="805.0,207.5 806.7,207.0 808.3,208.6 810.0,207.5 811.3,208.2 812.7,208.9 814.0,210.7 815.3,212.0 816.7,212.7 818.0,212.8 819.8,212.8 821.5,212.6 823.2,214.0 825.0,214.1 826.2,212.7 827.5,212.3 828.8,210.9 830.0,210.8 831.2,211.7 832.5,212.0 833.8,214.5 835.0,214.2 836.2,216.1 837.5,216.8 838.8,217.5 840.0,218.2 841.6,219.5 843.2,218.1 844.8,219.1 846.4,219.8 848.0,218.4 849.8,218.7 851.5,219.7 853.2,219.8 855.0,220.0 855.2,221.7 855.3,223.3 855.5,225.0 855.7,226.7 855.8,228.3 856.0,230.0 856.1,231.5 856.2,233.1 856.2,234.6 856.3,236.2 856.4,237.7 856.5,239.2 856.5,240.8 856.6,242.3 856.7,243.8 856.8,245.4 856.8,246.9 856.9,248.5 857.0,250.0 857.1,251.5 857.2,253.1 857.2,254.6 857.3,256.2 857.4,257.7 857.5,259.2 857.5,260.8 857.6,262.3 857.7,263.8 857.8,265.4 857.8,266.9 857.9,268.5 858.0,270.0 858.1,271.5 858.3,273.0 858.4,274.6 858.5,276.1 858.7,277.6 858.8,279.1 858.9,280.7 859.0,282.2 859.2,283.7 859.3,285.2 859.4,286.7 859.6,288.3 859.7,289.8 859.8,291.3 860.0,292.8 860.1,294.3 860.2,295.9 860.3,297.4 860.5,298.9 860.6,300.4 860.7,302.0 860.9,303.5 861.0,305.0" fill="none" stroke="#178a3a" stroke-width="4.2" stroke-linejoin="round" stroke-linecap="round" />
<polyline points="869.3,307.6 870.8,307.8 872.4,306.8 873.9,306.9 875.4,306.9 876.9,306.4 878.5,307.7 880.0,307.5 881.7,307.3 883.3,306.1 885.0,307.5 886.7,307.3 888.3,306.8 890.0,307.2 891.7,306.8 893.3,306.5 895.0,306.4 896.7,306.6 898.3,306.4 900.0,306.9 901.7,307.6 903.3,307.4 905.0,307.7 906.7,307.4 908.3,306.7 910.0,307.1 911.6,306.9 913.2,307.6 914.8,307.2 916.4,306.8 918.0,307.5 919.6,307.3" fill="none" stroke="#ec1c24" stroke-width="3.0" stroke-linejoin="round" stroke-linecap="round" />
<circle cx="873.7" cy="308.6" r="1.8" fill="#178a3a"/>
<polygon points="275.9,148.7 291.4,148.7 291.4,186.5 299.9,186.5 283.6,202.0 267.4,186.5 275.9,186.5" fill="#4f86c6" />
<polygon points="279.9,153.1 287.4,153.1 287.4,190.5 289.5,190.5 283.6,196.8 277.8,190.5 279.9,190.5" fill="#92c94e" />
<polygon points="785.2,101.4 800.8,101.4 800.8,149.1 809.2,149.1 793.0,164.0 776.8,149.1 785.2,149.1" fill="#5b8ccf" />
<polygon points="789.2,105.9 796.2,105.9 796.2,153.3 798.5,153.3 792.7,158.9 787.0,153.3 789.2,153.3" fill="#000" />
<polygon points="848.9,128.2 864.4,128.2 864.4,176.3 872.7,176.3 856.6,192.6 840.5,176.3 848.9,176.3" fill="#5b8ccf" />
<polygon points="853.6,132.4 860.0,132.4 860.0,180.4 862.8,180.4 856.8,186.6 850.8,180.4 853.6,180.4" fill="#000" />
<line x1="650.5" y1="272" x2="650.5" y2="284.5" stroke="#178a3a" stroke-width="5.6" stroke-linecap="round"/>
<polygon points="645.9,280.7 662.1,280.7 662.1,233.5 670.5,233.5 654.0,217.5 637.5,233.5 645.9,233.5" fill="#3a5c92" />
<polygon points="649.6,277.6 658.8,277.6 658.8,230.8 660.9,230.8 654.2,222.3 647.5,230.8 649.6,230.8" fill="#3e4fb2" />
<polygon points="356.7,282.4 366.9,282.4 366.9,237.6 372.2,237.6 361.8,227.2 351.4,237.6 356.7,237.6" fill="#2f5f98" />
<line x1="361.8" y1="233.2" x2="361.8" y2="282.4" stroke="#fff" stroke-width="1.8" />
<polygon points="395.7,282.4 405.9,282.4 405.9,237.6 411.2,237.6 400.8,227.2 390.4,237.6 395.7,237.6" fill="#2f5f98" />
<line x1="400.8" y1="233.2" x2="400.8" y2="282.4" stroke="#fff" stroke-width="1.8" />
<polygon points="440.4,282.4 450.6,282.4 450.6,237.6 455.9,237.6 445.5,227.2 435.1,237.6 440.4,237.6" fill="#2f5f98" />
<line x1="445.5" y1="233.2" x2="445.5" y2="282.4" stroke="#fff" stroke-width="1.8" />
<polygon points="487.8,282.4 498.0,282.4 498.0,237.6 503.3,237.6 492.9,227.2 482.5,237.6 487.8,237.6" fill="#2f5f98" />
<line x1="492.9" y1="233.2" x2="492.9" y2="282.4" stroke="#fff" stroke-width="1.8" />
<polygon points="535.8,282.4 546.0,282.4 546.0,237.6 551.3,237.6 540.9,227.2 530.5,237.6 535.8,237.6" fill="#2f5f98" />
<line x1="540.9" y1="233.2" x2="540.9" y2="282.4" stroke="#fff" stroke-width="1.8" />
<polygon points="586.0,282.4 596.2,282.4 596.2,237.6 601.5,237.6 591.1,227.2 580.7,237.6 586.0,237.6" fill="#2f5f98" />
<line x1="591.1" y1="233.2" x2="591.1" y2="282.4" stroke="#fff" stroke-width="1.8" />
<rect x="366" y="251.5" width="118" height="24.5" fill="#fff" />
<text x="424.6" y="270.9" font-size="20.9" text-anchor="middle" fill="#000" font-weight="normal"  >DMSO/AmR</text>
<rect x="352.8" y="284" width="18" height="16.5" fill="#fff" />
<text x="361.8" y="298.4" font-size="16" text-anchor="middle" fill="#000" font-weight="normal"  >5</text>
<rect x="391.8" y="284" width="18" height="16.5" fill="#fff" />
<text x="400.8" y="298.4" font-size="16" text-anchor="middle" fill="#000" font-weight="normal"  >10</text>
<rect x="436.5" y="284" width="18" height="16.5" fill="#fff" />
<text x="445.5" y="298.4" font-size="16" text-anchor="middle" fill="#000" font-weight="normal"  >15</text>
<rect x="483.9" y="284" width="18" height="16.5" fill="#fff" />
<text x="492.9" y="298.4" font-size="16" text-anchor="middle" fill="#000" font-weight="normal"  >20</text>
<rect x="531.9" y="284" width="18" height="16.5" fill="#fff" />
<text x="540.9" y="298.4" font-size="16" text-anchor="middle" fill="#000" font-weight="normal"  >25</text>
<rect x="582.1" y="284" width="18" height="16.5" fill="#fff" />
<text x="591.1" y="298.4" font-size="16" text-anchor="middle" fill="#000" font-weight="normal"  >30</text>
<text x="189.5" y="163.4" font-size="19.5" fill="#2160b8">[O<tspan font-size="13" dy="3">2</tspan><tspan dy="-3">]</tspan></text>
<line x1="96.2" y1="90.8" x2="130.3" y2="90.8" stroke="#c8403f" stroke-width="4.0" stroke-linecap="round"/>
<line x1="96.2" y1="114.9" x2="130.3" y2="114.9" stroke="#20b04c" stroke-width="4.0" stroke-linecap="round"/>
<text x="137" y="98" font-size="21.3" text-anchor="start" fill="#000" font-weight="normal"  >DMSO</text>
<text x="138.5" y="121.8" font-size="21.0" text-anchor="start" fill="#000" font-weight="normal"  >AmR</text>
<rect x="83.6" y="70.8" width="849.8" height="235.39999999999998" fill="none" stroke="#000" stroke-width="2.7"/>
<line x1="79.39999999999999" y1="306.2" x2="83.6" y2="306.2" stroke="#000" stroke-width="1.6" />
<line x1="933.4" y1="306.2" x2="937.6999999999999" y2="306.2" stroke="#000" stroke-width="1.6" />
<line x1="80.8" y1="294.43" x2="83.6" y2="294.43" stroke="#000" stroke-width="1.6" />
<line x1="933.4" y1="294.43" x2="936.6" y2="294.43" stroke="#000" stroke-width="1.6" />
<line x1="80.8" y1="282.65999999999997" x2="83.6" y2="282.65999999999997" stroke="#000" stroke-width="1.6" />
<line x1="933.4" y1="282.65999999999997" x2="936.6" y2="282.65999999999997" stroke="#000" stroke-width="1.6" />
<line x1="80.8" y1="270.89" x2="83.6" y2="270.89" stroke="#000" stroke-width="1.6" />
<line x1="933.4" y1="270.89" x2="936.6" y2="270.89" stroke="#000" stroke-width="1.6" />
<line x1="79.39999999999999" y1="259.12" x2="83.6" y2="259.12" stroke="#000" stroke-width="1.6" />
<line x1="933.4" y1="259.12" x2="937.6999999999999" y2="259.12" stroke="#000" stroke-width="1.6" />
<line x1="80.8" y1="247.35" x2="83.6" y2="247.35" stroke="#000" stroke-width="1.6" />
<line x1="933.4" y1="247.35" x2="936.6" y2="247.35" stroke="#000" stroke-width="1.6" />
<line x1="80.8" y1="235.57999999999998" x2="83.6" y2="235.57999999999998" stroke="#000" stroke-width="1.6" />
<line x1="933.4" y1="235.57999999999998" x2="936.6" y2="235.57999999999998" stroke="#000" stroke-width="1.6" />
<line x1="80.8" y1="223.81" x2="83.6" y2="223.81" stroke="#000" stroke-width="1.6" />
<line x1="933.4" y1="223.81" x2="936.6" y2="223.81" stroke="#000" stroke-width="1.6" />
<line x1="79.39999999999999" y1="212.04000000000002" x2="83.6" y2="212.04000000000002" stroke="#000" stroke-width="1.6" />
<line x1="933.4" y1="212.04000000000002" x2="937.6999999999999" y2="212.04000000000002" stroke="#000" stroke-width="1.6" />
<line x1="80.8" y1="200.27" x2="83.6" y2="200.27" stroke="#000" stroke-width="1.6" />
<line x1="933.4" y1="200.27" x2="936.6" y2="200.27" stroke="#000" stroke-width="1.6" />
<line x1="80.8" y1="188.5" x2="83.6" y2="188.5" stroke="#000" stroke-width="1.6" />
<line x1="933.4" y1="188.5" x2="936.6" y2="188.5" stroke="#000" stroke-width="1.6" />
<line x1="80.8" y1="176.73" x2="83.6" y2="176.73" stroke="#000" stroke-width="1.6" />
<line x1="933.4" y1="176.73" x2="936.6" y2="176.73" stroke="#000" stroke-width="1.6" />
<line x1="79.39999999999999" y1="164.95999999999998" x2="83.6" y2="164.95999999999998" stroke="#000" stroke-width="1.6" />
<line x1="933.4" y1="164.95999999999998" x2="937.6999999999999" y2="164.95999999999998" stroke="#000" stroke-width="1.6" />
<line x1="80.8" y1="153.19000000000003" x2="83.6" y2="153.19000000000003" stroke="#000" stroke-width="1.6" />
<line x1="933.4" y1="153.19000000000003" x2="936.6" y2="153.19000000000003" stroke="#000" stroke-width="1.6" />
<line x1="80.8" y1="141.42000000000002" x2="83.6" y2="141.42000000000002" stroke="#000" stroke-width="1.6" />
<line x1="933.4" y1="141.42000000000002" x2="936.6" y2="141.42000000000002" stroke="#000" stroke-width="1.6" />
<line x1="80.8" y1="129.65" x2="83.6" y2="129.65" stroke="#000" stroke-width="1.6" />
<line x1="933.4" y1="129.65" x2="936.6" y2="129.65" stroke="#000" stroke-width="1.6" />
<line x1="79.39999999999999" y1="117.88000000000002" x2="83.6" y2="117.88000000000002" stroke="#000" stroke-width="1.6" />
<line x1="933.4" y1="117.88000000000002" x2="937.6999999999999" y2="117.88000000000002" stroke="#000" stroke-width="1.6" />
<line x1="80.8" y1="106.11000000000001" x2="83.6" y2="106.11000000000001" stroke="#000" stroke-width="1.6" />
<line x1="933.4" y1="106.11000000000001" x2="936.6" y2="106.11000000000001" stroke="#000" stroke-width="1.6" />
<line x1="80.8" y1="94.34000000000003" x2="83.6" y2="94.34000000000003" stroke="#000" stroke-width="1.6" />
<line x1="933.4" y1="94.34000000000003" x2="936.6" y2="94.34000000000003" stroke="#000" stroke-width="1.6" />
<line x1="80.8" y1="82.57000000000002" x2="83.6" y2="82.57000000000002" stroke="#000" stroke-width="1.6" />
<line x1="933.4" y1="82.57000000000002" x2="936.6" y2="82.57000000000002" stroke="#000" stroke-width="1.6" />
<line x1="79.39999999999999" y1="70.80000000000001" x2="83.6" y2="70.80000000000001" stroke="#000" stroke-width="1.6" />
<line x1="933.4" y1="70.80000000000001" x2="937.6999999999999" y2="70.80000000000001" stroke="#000" stroke-width="1.6" />
<line x1="83.6" y1="306.2" x2="83.6" y2="309.8" stroke="#000" stroke-width="1.6" />
<line x1="111.94" y1="306.2" x2="111.94" y2="309.2" stroke="#000" stroke-width="1.6" />
<line x1="140.27999999999997" y1="306.2" x2="140.27999999999997" y2="309.2" stroke="#000" stroke-width="1.6" />
<line x1="168.61999999999998" y1="306.2" x2="168.61999999999998" y2="309.2" stroke="#000" stroke-width="1.6" />
<line x1="196.95999999999998" y1="306.2" x2="196.95999999999998" y2="309.2" stroke="#000" stroke-width="1.6" />
<line x1="225.29999999999998" y1="306.2" x2="225.29999999999998" y2="309.8" stroke="#000" stroke-width="1.6" />
<line x1="253.63999999999996" y1="306.2" x2="253.63999999999996" y2="309.2" stroke="#000" stroke-width="1.6" />
<line x1="281.97999999999996" y1="306.2" x2="281.97999999999996" y2="309.2" stroke="#000" stroke-width="1.6" />
<line x1="310.31999999999994" y1="306.2" x2="310.31999999999994" y2="309.2" stroke="#000" stroke-width="1.6" />
<line x1="338.65999999999997" y1="306.2" x2="338.65999999999997" y2="309.2" stroke="#000" stroke-width="1.6" />
<line x1="367.0" y1="306.2" x2="367.0" y2="309.8" stroke="#000" stroke-width="1.6" />
<line x1="395.3399999999999" y1="306.2" x2="395.3399999999999" y2="309.2" stroke="#000" stroke-width="1.6" />
<line x1="423.67999999999995" y1="306.2" x2="423.67999999999995" y2="309.2" stroke="#000" stroke-width="1.6" />
<line x1="452.02" y1="306.2" x2="452.02" y2="309.2" stroke="#000" stroke-width="1.6" />
<line x1="480.3599999999999" y1="306.2" x2="480.3599999999999" y2="309.2" stroke="#000" stroke-width="1.6" />
<line x1="508.69999999999993" y1="306.2" x2="508.69999999999993" y2="309.8" stroke="#000" stroke-width="1.6" />
<line x1="537.04" y1="306.2" x2="537.04" y2="309.2" stroke="#000" stroke-width="1.6" />
<line x1="565.3799999999999" y1="306.2" x2="565.3799999999999" y2="309.2" stroke="#000" stroke-width="1.6" />
<line x1="593.7199999999999" y1="306.2" x2="593.7199999999999" y2="309.2" stroke="#000" stroke-width="1.6" />
<line x1="622.06" y1="306.2" x2="622.06" y2="309.2" stroke="#000" stroke-width="1.6" />
<line x1="650.4" y1="306.2" x2="650.4" y2="309.8" stroke="#000" stroke-width="1.6" />
<line x1="678.7399999999999" y1="306.2" x2="678.7399999999999" y2="309.2" stroke="#000" stroke-width="1.6" />
<line x1="707.0799999999999" y1="306.2" x2="707.0799999999999" y2="309.2" stroke="#000" stroke-width="1.6" />
<line x1="735.42" y1="306.2" x2="735.42" y2="309.2" stroke="#000" stroke-width="1.6" />
<line x1="763.7599999999999" y1="306.2" x2="763.7599999999999" y2="309.2" stroke="#000" stroke-width="1.6" />
<line x1="792.0999999999999" y1="306.2" x2="792.0999999999999" y2="309.8" stroke="#000" stroke-width="1.6" />
<line x1="820.4399999999999" y1="306.2" x2="820.4399999999999" y2="309.2" stroke="#000" stroke-width="1.6" />
<line x1="848.78" y1="306.2" x2="848.78" y2="309.2" stroke="#000" stroke-width="1.6" />
<line x1="877.1199999999999" y1="306.2" x2="877.1199999999999" y2="309.2" stroke="#000" stroke-width="1.6" />
<line x1="905.4599999999999" y1="306.2" x2="905.4599999999999" y2="309.2" stroke="#000" stroke-width="1.6" />
<line x1="933.8" y1="306.2" x2="933.8" y2="309.8" stroke="#000" stroke-width="1.6" />
<text x="75.2" y="313.59999999999997" font-size="20" text-anchor="end" fill="#000" font-weight="normal"  >0</text>
<text x="939.5" y="313.59999999999997" font-size="20" text-anchor="start" fill="#000" font-weight="normal"  >0</text>
<text x="75.2" y="266.52" font-size="20" text-anchor="end" fill="#000" font-weight="normal"  >50</text>
<text x="939.5" y="266.52" font-size="20" text-anchor="start" fill="#000" font-weight="normal"  >50</text>
<text x="75.2" y="219.44000000000003" font-size="20" text-anchor="end" fill="#000" font-weight="normal"  >100</text>
<text x="939.5" y="219.44000000000003" font-size="20" text-anchor="start" fill="#000" font-weight="normal"  >100</text>
<text x="75.2" y="172.35999999999999" font-size="20" text-anchor="end" fill="#000" font-weight="normal"  >150</text>
<text x="939.5" y="172.35999999999999" font-size="20" text-anchor="start" fill="#000" font-weight="normal"  >150</text>
<text x="75.2" y="125.28000000000003" font-size="20" text-anchor="end" fill="#000" font-weight="normal"  >200</text>
<text x="939.5" y="125.28000000000003" font-size="20" text-anchor="start" fill="#000" font-weight="normal"  >200</text>
<text x="75.2" y="78.20000000000002" font-size="20" text-anchor="end" fill="#000" font-weight="normal"  >250</text>
<text x="939.5" y="78.20000000000002" font-size="20" text-anchor="start" fill="#000" font-weight="normal"  >250</text>
<text x="85.19999999999999" y="330.6" font-size="21.2" text-anchor="middle" fill="#000" font-weight="normal"  >0:00</text>
<text x="226.89999999999998" y="330.6" font-size="21.2" text-anchor="middle" fill="#000" font-weight="normal"  >0:14</text>
<text x="368.6" y="330.6" font-size="21.2" text-anchor="middle" fill="#000" font-weight="normal"  >0:28</text>
<text x="510.29999999999995" y="330.6" font-size="21.2" text-anchor="middle" fill="#000" font-weight="normal"  >0:42</text>
<text x="652.0" y="330.6" font-size="21.2" text-anchor="middle" fill="#000" font-weight="normal"  >0:56</text>
<text x="793.7" y="330.6" font-size="21.2" text-anchor="middle" fill="#000" font-weight="normal"  >1:10</text>
<g transform="translate(33.6,185.9) scale(1.1,1) rotate(-90)"><text x="0" y="0" font-size="28.5" text-anchor="middle" fill="#2160b8">O<tspan font-size="18.5" dy="4">2</tspan><tspan dy="-4"> concentration [µM]</tspan></text></g>
<g transform="translate(1005.6,206.8) scale(1.03,1) rotate(-90)"><text x="0" y="0" font-size="29.1" text-anchor="middle" fill="#000">Respiration [pmol·s<tspan font-size="18.5" dy="-10">-1</tspan><tspan dy="10">·ml</tspan><tspan font-size="18.5" dy="-10">-1</tspan><tspan dy="10">]</tspan></text></g>
<text x="7.5" y="27.5" font-size="24.8" text-anchor="start" fill="#000" font-weight="bold"  >Permeabilized HEK 293T cells</text>
<rect x="128.8" y="339.8" width="46.2" height="23.3" fill="#138a3e" />
<text x="152" y="358.6" font-size="20" text-anchor="middle" fill="#fff" font-weight="bold" font-style="italic">R</text>
<rect x="250" y="339.8" width="35.3" height="23.3" fill="#ec1c24" />
<text x="268" y="358.6" font-size="20" text-anchor="middle" fill="#fff" font-weight="bold" font-style="italic">L</text>
<rect x="297.2" y="339.8" width="346.1" height="23.3" fill="#178a43" />
<text x="470.2" y="359.2" font-size="21" text-anchor="middle" fill="#f4f6e8" font-weight="bold"  >OXPHOS</text>
<rect x="747.6" y="339.8" width="109" height="23.3" fill="#3c4fa6" />
<text x="802.3" y="359.4" font-size="20.5" text-anchor="middle" fill="#fff" font-weight="normal"  >ETS</text>
<text x="509" y="387.6" font-size="20.5" text-anchor="middle" fill="#000" font-weight="normal"  >Time range 1 h : 25 min</text>
<text x="663.6" y="385.6" font-size="16.6" text-anchor="start" fill="#ababab" font-weight="normal"  >Experiment: 2014-12-09 P8-02.DLD</text>
<text x="7.8" y="381.4" font-size="50" text-anchor="start" fill="#000" font-weight="bold"  >A</text>
<line x1="293.55" y1="810.2" x2="293.55" y2="805.4" stroke="#000" stroke-width="2.1" />
<line x1="288.55" y1="805.4" x2="298.55" y2="805.4" stroke="#000" stroke-width="2.4" />
<line x1="305.24999999999994" y1="803.0" x2="305.24999999999994" y2="795.5" stroke="#000" stroke-width="2.1" />
<line x1="300.24999999999994" y1="795.5" x2="310.24999999999994" y2="795.5" stroke="#000" stroke-width="2.4" />
<rect x="288.15" y="811.25" width="11.25" height="7.45" fill="#fff" stroke="#000" stroke-width="2.1"/>
<rect x="299.40" y="804.05" width="11.25" height="14.65" fill="#c0c0c0" stroke="#000" stroke-width="2.1"/>
<line x1="293.55" y1="810.2" x2="293.55" y2="805.4" stroke="#000" stroke-width="2.1" />
<line x1="305.24999999999994" y1="803.0" x2="305.24999999999994" y2="795.5" stroke="#000" stroke-width="2.1" />
<line x1="339.57" y1="802.2" x2="339.57" y2="795.9" stroke="#000" stroke-width="2.1" />
<line x1="334.57" y1="795.9" x2="344.57" y2="795.9" stroke="#000" stroke-width="2.4" />
<line x1="351.2699999999999" y1="796.4" x2="351.2699999999999" y2="788.8" stroke="#000" stroke-width="2.1" />
<line x1="346.2699999999999" y1="788.8" x2="356.2699999999999" y2="788.8" stroke="#000" stroke-width="2.4" />
<rect x="334.17" y="803.25" width="11.25" height="15.45" fill="#fff" stroke="#000" stroke-width="2.1"/>
<rect x="345.42" y="797.45" width="11.25" height="21.25" fill="#c0c0c0" stroke="#000" stroke-width="2.1"/>
<line x1="339.57" y1="802.2" x2="339.57" y2="795.9" stroke="#000" stroke-width="2.1" />
<line x1="351.2699999999999" y1="796.4" x2="351.2699999999999" y2="788.8" stroke="#000" stroke-width="2.1" />
<line x1="385.59000000000003" y1="680.8" x2="385.59000000000003" y2="652.9" stroke="#000" stroke-width="2.1" />
<line x1="380.59000000000003" y1="652.9" x2="390.59000000000003" y2="652.9" stroke="#000" stroke-width="2.4" />
<line x1="397.28999999999996" y1="675.2" x2="397.28999999999996" y2="647.3" stroke="#000" stroke-width="2.1" />
<line x1="392.28999999999996" y1="647.3" x2="402.28999999999996" y2="647.3" stroke="#000" stroke-width="2.4" />
<rect x="380.19" y="681.85" width="11.25" height="136.85" fill="#fff" stroke="#000" stroke-width="2.1"/>
<rect x="391.44" y="676.25" width="11.25" height="142.45" fill="#c0c0c0" stroke="#000" stroke-width="2.1"/>
<line x1="385.59000000000003" y1="680.8" x2="385.59000000000003" y2="652.9" stroke="#000" stroke-width="2.1" />
<line x1="397.28999999999996" y1="675.2" x2="397.28999999999996" y2="647.3" stroke="#000" stroke-width="2.1" />
<line x1="431.61" y1="562.4" x2="431.61" y2="522.3" stroke="#000" stroke-width="2.1" />
<line x1="426.61" y1="522.3" x2="436.61" y2="522.3" stroke="#000" stroke-width="2.4" />
<line x1="443.30999999999995" y1="559.2" x2="443.30999999999995" y2="524.6" stroke="#000" stroke-width="2.1" />
<line x1="438.30999999999995" y1="524.6" x2="448.30999999999995" y2="524.6" stroke="#000" stroke-width="2.4" />
<rect x="426.21" y="563.45" width="11.25" height="255.25" fill="#fff" stroke="#000" stroke-width="2.1"/>
<rect x="437.46" y="560.25" width="11.25" height="258.45" fill="#c0c0c0" stroke="#000" stroke-width="2.1"/>
<line x1="431.61" y1="562.4" x2="431.61" y2="522.3" stroke="#000" stroke-width="2.1" />
<line x1="443.30999999999995" y1="559.2" x2="443.30999999999995" y2="524.6" stroke="#000" stroke-width="2.1" />
<line x1="477.63000000000005" y1="559.5" x2="477.63000000000005" y2="516.8" stroke="#000" stroke-width="2.1" />
<line x1="472.63000000000005" y1="516.8" x2="482.63000000000005" y2="516.8" stroke="#000" stroke-width="2.4" />
<line x1="489.33" y1="564.6" x2="489.33" y2="531.0" stroke="#000" stroke-width="2.1" />
<line x1="484.33" y1="531.0" x2="494.33" y2="531.0" stroke="#000" stroke-width="2.4" />
<rect x="472.23" y="560.55" width="11.25" height="258.15" fill="#fff" stroke="#000" stroke-width="2.1"/>
<rect x="483.48" y="565.65" width="11.25" height="253.05" fill="#c0c0c0" stroke="#000" stroke-width="2.1"/>
<line x1="477.63000000000005" y1="559.5" x2="477.63000000000005" y2="516.8" stroke="#000" stroke-width="2.1" />
<line x1="489.33" y1="564.6" x2="489.33" y2="531.0" stroke="#000" stroke-width="2.1" />
<line x1="523.65" y1="557.9" x2="523.65" y2="516.3" stroke="#000" stroke-width="2.1" />
<line x1="518.65" y1="516.3" x2="528.65" y2="516.3" stroke="#000" stroke-width="2.4" />
<line x1="535.35" y1="571.6" x2="535.35" y2="536.3" stroke="#000" stroke-width="2.1" />
<line x1="530.35" y1="536.3" x2="540.35" y2="536.3" stroke="#000" stroke-width="2.4" />
<rect x="518.25" y="558.95" width="11.25" height="259.75" fill="#fff" stroke="#000" stroke-width="2.1"/>
<rect x="529.50" y="572.65" width="11.25" height="246.05" fill="#c0c0c0" stroke="#000" stroke-width="2.1"/>
<line x1="523.65" y1="557.9" x2="523.65" y2="516.3" stroke="#000" stroke-width="2.1" />
<line x1="535.35" y1="571.6" x2="535.35" y2="536.3" stroke="#000" stroke-width="2.1" />
<line x1="569.67" y1="560.9" x2="569.67" y2="521.1" stroke="#000" stroke-width="2.1" />
<line x1="564.67" y1="521.1" x2="574.67" y2="521.1" stroke="#000" stroke-width="2.4" />
<line x1="581.37" y1="580.0" x2="581.37" y2="547.7" stroke="#000" stroke-width="2.1" />
<line x1="576.37" y1="547.7" x2="586.37" y2="547.7" stroke="#000" stroke-width="2.4" />
<rect x="564.27" y="561.95" width="11.25" height="256.75" fill="#fff" stroke="#000" stroke-width="2.1"/>
<rect x="575.52" y="581.05" width="11.25" height="237.65" fill="#c0c0c0" stroke="#000" stroke-width="2.1"/>
<line x1="569.67" y1="560.9" x2="569.67" y2="521.1" stroke="#000" stroke-width="2.1" />
<line x1="581.37" y1="580.0" x2="581.37" y2="547.7" stroke="#000" stroke-width="2.1" />
<line x1="615.6899999999999" y1="561.8" x2="615.6899999999999" y2="521.2" stroke="#000" stroke-width="2.1" />
<line x1="610.6899999999999" y1="521.2" x2="620.6899999999999" y2="521.2" stroke="#000" stroke-width="2.4" />
<line x1="627.39" y1="589.3" x2="627.39" y2="558.8" stroke="#000" stroke-width="2.1" />
<line x1="622.39" y1="558.8" x2="632.39" y2="558.8" stroke="#000" stroke-width="2.4" />
<rect x="610.29" y="562.85" width="11.25" height="255.85" fill="#fff" stroke="#000" stroke-width="2.1"/>
<rect x="621.54" y="590.35" width="11.25" height="228.35" fill="#c0c0c0" stroke="#000" stroke-width="2.1"/>
<line x1="615.6899999999999" y1="561.8" x2="615.6899999999999" y2="521.2" stroke="#000" stroke-width="2.1" />
<line x1="627.39" y1="589.3" x2="627.39" y2="558.8" stroke="#000" stroke-width="2.1" />
<line x1="661.7099999999999" y1="563.7" x2="661.7099999999999" y2="523.0" stroke="#000" stroke-width="2.1" />
<line x1="656.7099999999999" y1="523.0" x2="666.7099999999999" y2="523.0" stroke="#000" stroke-width="2.4" />
<line x1="673.41" y1="600.0" x2="673.41" y2="568.7" stroke="#000" stroke-width="2.1" />
<line x1="668.41" y1="568.7" x2="678.41" y2="568.7" stroke="#000" stroke-width="2.4" />
<rect x="656.31" y="564.75" width="11.25" height="253.95" fill="#fff" stroke="#000" stroke-width="2.1"/>
<rect x="667.56" y="601.05" width="11.25" height="217.65" fill="#c0c0c0" stroke="#000" stroke-width="2.1"/>
<line x1="661.7099999999999" y1="563.7" x2="661.7099999999999" y2="523.0" stroke="#000" stroke-width="2.1" />
<line x1="673.41" y1="600.0" x2="673.41" y2="568.7" stroke="#000" stroke-width="2.1" />
<line x1="707.7299999999999" y1="563.7" x2="707.7299999999999" y2="523.0" stroke="#000" stroke-width="2.1" />
<line x1="702.7299999999999" y1="523.0" x2="712.7299999999999" y2="523.0" stroke="#000" stroke-width="2.4" />
<line x1="719.43" y1="604.3" x2="719.43" y2="575.1" stroke="#000" stroke-width="2.1" />
<line x1="714.43" y1="575.1" x2="724.43" y2="575.1" stroke="#000" stroke-width="2.4" />
<rect x="702.33" y="564.75" width="11.25" height="253.95" fill="#fff" stroke="#000" stroke-width="2.1"/>
<rect x="713.58" y="605.35" width="11.25" height="213.35" fill="#c0c0c0" stroke="#000" stroke-width="2.1"/>
<line x1="707.7299999999999" y1="563.7" x2="707.7299999999999" y2="523.0" stroke="#000" stroke-width="2.1" />
<line x1="719.43" y1="604.3" x2="719.43" y2="575.1" stroke="#000" stroke-width="2.1" />
<line x1="753.75" y1="492.0" x2="753.75" y2="459.6" stroke="#000" stroke-width="2.1" />
<line x1="748.75" y1="459.6" x2="758.75" y2="459.6" stroke="#000" stroke-width="2.4" />
<line x1="765.45" y1="552.5" x2="765.45" y2="525.1" stroke="#000" stroke-width="2.1" />
<line x1="760.45" y1="525.1" x2="770.45" y2="525.1" stroke="#000" stroke-width="2.4" />
<rect x="748.35" y="493.05" width="11.25" height="325.65" fill="#fff" stroke="#000" stroke-width="2.1"/>
<rect x="759.60" y="553.55" width="11.25" height="265.15" fill="#c0c0c0" stroke="#000" stroke-width="2.1"/>
<line x1="753.75" y1="492.0" x2="753.75" y2="459.6" stroke="#000" stroke-width="2.1" />
<line x1="765.45" y1="552.5" x2="765.45" y2="525.1" stroke="#000" stroke-width="2.1" />
<line x1="799.77" y1="710.5" x2="799.77" y2="690.0" stroke="#000" stroke-width="2.1" />
<line x1="794.77" y1="690.0" x2="804.77" y2="690.0" stroke="#000" stroke-width="2.4" />
<line x1="811.47" y1="710.3" x2="811.47" y2="690.0" stroke="#000" stroke-width="2.1" />
<line x1="806.47" y1="690.0" x2="816.47" y2="690.0" stroke="#000" stroke-width="2.4" />
<rect x="794.37" y="711.55" width="11.25" height="107.15" fill="#fff" stroke="#000" stroke-width="2.1"/>
<rect x="805.62" y="711.35" width="11.25" height="107.35" fill="#c0c0c0" stroke="#000" stroke-width="2.1"/>
<line x1="799.77" y1="710.5" x2="799.77" y2="690.0" stroke="#000" stroke-width="2.1" />
<line x1="811.47" y1="710.3" x2="811.47" y2="690.0" stroke="#000" stroke-width="2.1" />
<line x1="794.6" y1="690.0" x2="817.2" y2="690.0" stroke="#000" stroke-width="2.4" />
<rect x="276.3" y="421.0" width="553.0999999999999" height="397.70000000000005" fill="none" stroke="#000" stroke-width="2.3"/>
<line x1="271.1" y1="818.7" x2="276.3" y2="818.7" stroke="#000" stroke-width="2.1" />
<text x="260.2" y="825.3000000000001" font-size="18.8" text-anchor="end" fill="#222" font-weight="normal"  >0</text>
<line x1="271.1" y1="752.4166666666667" x2="276.3" y2="752.4166666666667" stroke="#000" stroke-width="2.1" />
<text x="260.2" y="759.0166666666668" font-size="18.8" text-anchor="end" fill="#222" font-weight="normal"  >20</text>
<line x1="271.1" y1="686.1333333333333" x2="276.3" y2="686.1333333333333" stroke="#000" stroke-width="2.1" />
<text x="260.2" y="692.7333333333333" font-size="18.8" text-anchor="end" fill="#222" font-weight="normal"  >40</text>
<line x1="271.1" y1="619.85" x2="276.3" y2="619.85" stroke="#000" stroke-width="2.1" />
<text x="260.2" y="626.45" font-size="18.8" text-anchor="end" fill="#222" font-weight="normal"  >60</text>
<line x1="271.1" y1="553.5666666666666" x2="276.3" y2="553.5666666666666" stroke="#000" stroke-width="2.1" />
<text x="260.2" y="560.1666666666666" font-size="18.8" text-anchor="end" fill="#222" font-weight="normal"  >80</text>
<line x1="271.1" y1="487.2833333333333" x2="276.3" y2="487.2833333333333" stroke="#000" stroke-width="2.1" />
<text x="260.2" y="493.8833333333333" font-size="18.8" text-anchor="end" fill="#222" font-weight="normal"  >100</text>
<line x1="271.1" y1="421.0" x2="276.3" y2="421.0" stroke="#000" stroke-width="2.1" />
<text x="260.2" y="427.6" font-size="18.8" text-anchor="end" fill="#222" font-weight="normal"  >120</text>
<line x1="299.4" y1="818.7" x2="299.4" y2="823.9000000000001" stroke="#000" stroke-width="2.1" />
<line x1="345.41999999999996" y1="818.7" x2="345.41999999999996" y2="823.9000000000001" stroke="#000" stroke-width="2.1" />
<line x1="391.44" y1="818.7" x2="391.44" y2="823.9000000000001" stroke="#000" stroke-width="2.1" />
<line x1="437.46" y1="818.7" x2="437.46" y2="823.9000000000001" stroke="#000" stroke-width="2.1" />
<line x1="483.48" y1="818.7" x2="483.48" y2="823.9000000000001" stroke="#000" stroke-width="2.1" />
<line x1="529.5" y1="818.7" x2="529.5" y2="823.9000000000001" stroke="#000" stroke-width="2.1" />
<line x1="575.52" y1="818.7" x2="575.52" y2="823.9000000000001" stroke="#000" stroke-width="2.1" />
<line x1="621.54" y1="818.7" x2="621.54" y2="823.9000000000001" stroke="#000" stroke-width="2.1" />
<line x1="667.56" y1="818.7" x2="667.56" y2="823.9000000000001" stroke="#000" stroke-width="2.1" />
<line x1="713.5799999999999" y1="818.7" x2="713.5799999999999" y2="823.9000000000001" stroke="#000" stroke-width="2.1" />
<line x1="759.6" y1="818.7" x2="759.6" y2="823.9000000000001" stroke="#000" stroke-width="2.1" />
<line x1="805.62" y1="818.7" x2="805.62" y2="823.9000000000001" stroke="#000" stroke-width="2.1" />
<rect x="299.1" y="452" width="46.2" height="9" fill="#fff" stroke="#000" stroke-width="2.1"/>
<rect x="299.1" y="479.2" width="46.2" height="9" fill="#c0c0c0" stroke="#000" stroke-width="2.1"/>
<text x="357.4" y="464.1" font-size="22.9" text-anchor="start" fill="#111" font-weight="normal"  >DMSO</text>
<text x="357.4" y="493.8" font-size="22.6" text-anchor="start" fill="#111" font-weight="normal"  >AmR</text>
<g transform="translate(263.2,870.6) rotate(-23)"><text x="0" y="0" font-size="18.2" fill="#111">endog<tspan font-size="14.5" dx="1.6" dy="4.2" font-style="italic">L</tspan></text></g>
<g transform="translate(330.8,855.5) rotate(-23)"><text x="0" y="0" font-size="18.2" fill="#111">CI<tspan font-size="14.5" dx="1.6" dy="4.2" font-style="italic">L</tspan></text></g>
<g transform="translate(375.0,855.5) rotate(-23)"><text x="0" y="0" font-size="18.2" fill="#111">CI<tspan font-size="14.5" dx="1.6" dy="4.2" font-style="italic">P</tspan></text></g>
<g transform="translate(399.9,864.8) rotate(-23)"><text x="0" y="0" font-size="18.2" fill="#111">CI<tspan font-size="15">&amp;</tspan>II<tspan font-size="14.5" dx="1.6" dy="4.2" font-style="italic">P</tspan></text></g>
<g transform="translate(451.4,868.8) rotate(-23)"><text x="0" y="0" font-size="18.2" fill="#111">AmR5</text></g>
<g transform="translate(487.8,871.7) rotate(-23)"><text x="0" y="0" font-size="18.2" fill="#111">AmR10</text></g>
<g transform="translate(534.3,871.7) rotate(-23)"><text x="0" y="0" font-size="18.2" fill="#111">AmR15</text></g>
<g transform="translate(580.1,871.7) rotate(-23)"><text x="0" y="0" font-size="18.2" fill="#111">AmR20</text></g>
<g transform="translate(626.3,871.9) rotate(-23)"><text x="0" y="0" font-size="18.2" fill="#111">AmR25</text></g>
<g transform="translate(672.5,871.9) rotate(-23)"><text x="0" y="0" font-size="18.2" fill="#111">AmR30</text></g>
<g transform="translate(731.5,865.7) rotate(-23)"><text x="0" y="0" font-size="18.2" fill="#111">CI<tspan font-size="15">&amp;</tspan>II<tspan font-size="14.5" dx="1.6" dy="4.2">E</tspan></text></g>
<g transform="translate(792.7,858.2) rotate(-23)"><text x="0" y="0" font-size="18.2" fill="#111">CII<tspan font-size="14.5" dx="1.6" dy="4.2">E</tspan></text></g>
<g transform="translate(207.3,620.5) scale(1.05,1) rotate(-90)"><text x="0" y="0" font-size="28.95" text-anchor="middle" fill="#111">Respiration [pmol·s<tspan font-size="18.5" dy="-10">-1</tspan><tspan dy="10">·10</tspan><tspan font-size="18.5" dy="-10">-6</tspan><tspan dy="10">cells]</tspan></text></g>
<text x="9.5" y="872.7" font-size="50.5" text-anchor="start" fill="#000" font-weight="bold"  >B</text>
</svg>
</body></html>
